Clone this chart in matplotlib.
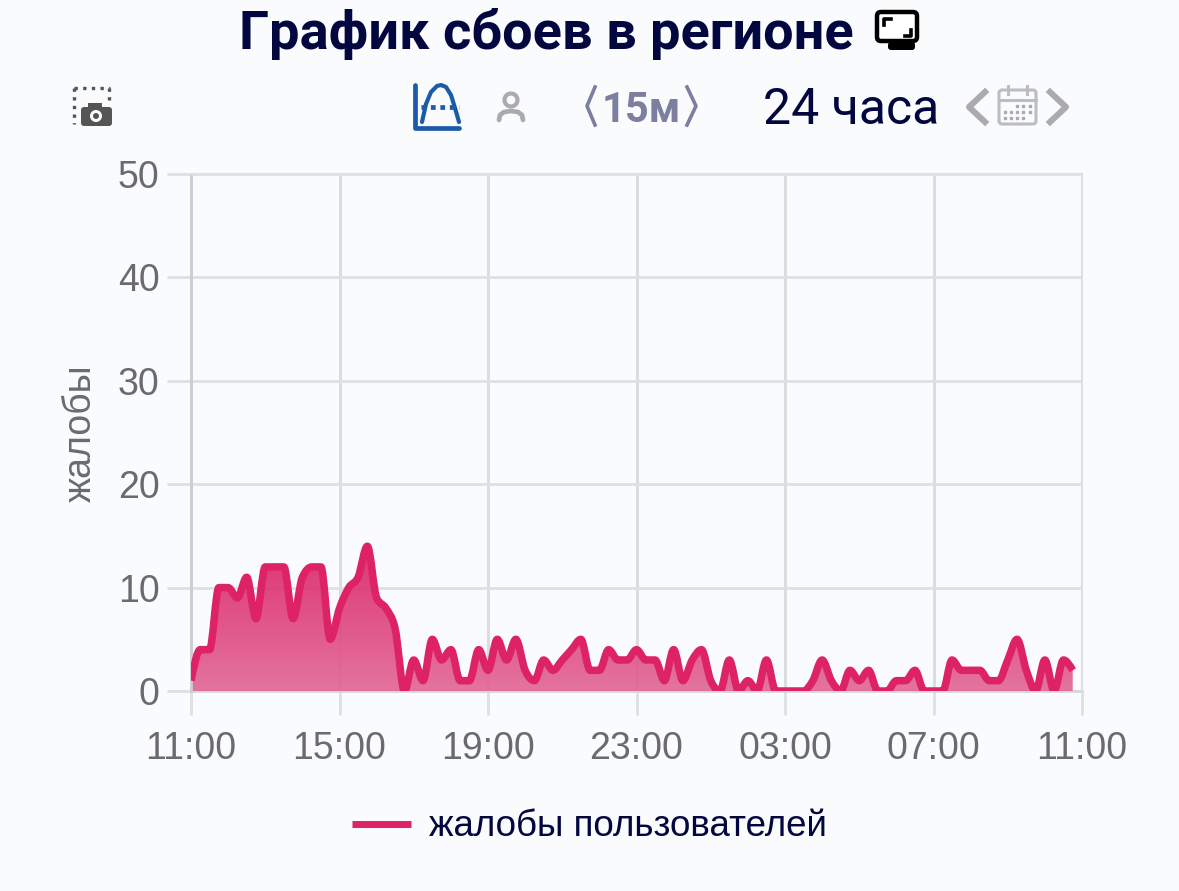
#!/usr/bin/env python3
"""Outage chart for the region: user complaints over 24 hours."""
import matplotlib
matplotlib.use('Agg')
import matplotlib.pyplot as plt
from matplotlib.patches import Circle, FancyBboxPatch, PathPatch, Rectangle
from matplotlib.path import Path
import numpy as np

# complaints per 15 minute slot, starting at 11:00
reports = [
    1, 4, 4, 10, 10, 9, 11, 7, 12, 12, 12, 7, 11, 12, 12, 5,
    8, 10, 11, 14, 9, 8, 6, 0, 3, 1, 5, 3, 4, 1, 1, 4,
    2, 5, 3, 5, 2, 1, 3, 2, 3, 4, 5, 2, 2, 4, 3, 3,
    4, 3, 3, 1, 4, 1, 3, 4, 1, 0, 3, 0, 1, 0, 3, 0,
    0, 0, 0, 1, 3, 1, 0, 2, 1, 2, 0, 0, 1, 1, 2, 0,
    0, 0, 3, 2, 2, 2, 1, 1, 3, 5, 2, 0, 3, 0, 3, 2,
]
hour_ticks = [0, 4, 8, 12, 16, 20, 24]
hour_labels = ['11:00', '15:00', '19:00', '23:00', '03:00', '07:00', '11:00']
y_ticks = [0, 10, 20, 30, 40, 50]

W, H = 1179, 891
BG = '#F9FBFD'
NAVY = '#03073F'
PINK = '#DE2266'
GRAY = '#6B6B6F'
GRID = '#DDE0E4'
ICON = '#ABABAD'
BLUE = '#1B5BAA'
DARK = '#555555'
plt.rcParams['font.family'] = ['Liberation Sans', 'DejaVu Sans']


def monotone_path(x, y):
    """Cubic bezier path through the points, same as d3 curveMonotoneX."""
    x = np.asarray(x, float)
    y = np.asarray(y, float)
    h = np.diff(x)
    s = np.diff(y) / h
    t = np.zeros(len(x))
    for i in range(1, len(x) - 1):
        if s[i - 1] * s[i] > 0:
            p = (s[i - 1] * h[i] + s[i] * h[i - 1]) / (h[i] + h[i - 1])
            t[i] = np.sign(s[i]) * min(abs(s[i - 1]), abs(s[i]), abs(p) / 2) * 2
    t[0] = (3 * s[0] - t[1]) / 2
    t[-1] = (3 * s[-1] - t[-2]) / 2
    verts = [(x[0], y[0])]
    codes = [Path.MOVETO]
    for i in range(len(x) - 1):
        verts += [(x[i] + h[i] / 3, y[i] + t[i] * h[i] / 3),
                  (x[i + 1] - h[i] / 3, y[i + 1] - t[i + 1] * h[i] / 3),
                  (x[i + 1], y[i + 1])]
        codes += [Path.CURVE4] * 3
    return verts, codes


fig = plt.figure(figsize=(W / 100, H / 100), dpi=100, facecolor=BG)
ax = fig.add_axes([191 / W, 1 - 691 / H, 891 / W, 517 / H], facecolor=BG)

hours = np.arange(len(reports)) * 0.25
verts, codes = monotone_path(hours, reports)

# area with vertical gradient, clipped by the curve
area = Path(verts + [(hours[-1], 0), (hours[0], 0), (hours[0], 0)],
            codes + [Path.LINETO, Path.LINETO, Path.CLOSEPOLY])
top = np.array([220, 30, 100]) / 255
low = np.array([226, 100, 148]) / 255
grad = np.linspace(0, 1, 200)[:, None, None] * (low - top) + top
img = ax.imshow(grad, extent=(0, 24, 0, 14), origin='upper', aspect='auto',
                zorder=2, alpha=0.9, interpolation='bilinear')
img.set_clip_path(PathPatch(area, transform=ax.transData))
ax.add_patch(PathPatch(Path(verts, codes), fc='none', ec=PINK, lw=5.4, zorder=3,
                       joinstyle='round', capstyle='butt'))

ax.set_xlim(0, 24)
ax.set_ylim(0, 50)
ax.set_xticks(hour_ticks, hour_labels)
ax.set_yticks(y_ticks)
ax.grid(True, color=GRID, lw=2, zorder=1)
ax.grid(True, axis='x', color='#DADCE1', lw=2.2)
ax.set_axisbelow(True)
ax.tick_params(axis='both', length=17, width=2, color=GRID, labelcolor=GRAY,
               labelsize=27)
ax.tick_params(axis='y', pad=5.5)
ax.tick_params(axis='x', pad=12)
for side in ('top', 'right'):
    ax.spines[side].set_color(GRID)
    ax.spines[side].set_linewidth(1.5)
ax.spines['left'].set_color('#CBCDD1')
ax.spines['left'].set_linewidth(2)
ax.spines['bottom'].set_color('#D5D7DB')
ax.spines['bottom'].set_linewidth(2)
ax.spines['bottom'].set_zorder(1.5)
ax.set_ylabel('жалобы', fontsize=27, color=GRAY)
ax.yaxis.set_label_coords((99 - 191) / 891, (691 - 433) / 517)

# everything around the plot, in pixel coordinates
ov = fig.add_axes([0, 0, 1, 1], facecolor='none')
ov.set_xlim(0, W)
ov.set_ylim(H, 0)
ov.axis('off')

ov.text(546, 34, 'График сбоев в регионе', family='Roboto', weight='bold',
        fontsize=39, color=NAVY, ha='center', va='center')
ov.text(851, 110, '24 часа', family='Roboto', fontsize=36, color=NAVY,
        ha='center', va='center')
ov.text(641, 110, '15м', family='Roboto', weight='bold', fontsize=30,
        color='#7C7F9F', ha='center', va='center')
for xs in ([595, 587, 595], [687, 696, 687]):
    ov.plot(xs, [87, 106, 125], color='#7C7F9F', lw=2.6)

# screen icon next to the title
ov.add_patch(FancyBboxPatch((877, 12), 40, 29, boxstyle='round,pad=0,rounding_size=4',
                            fc='white', ec='black', lw=3.2))
ov.add_patch(FancyBboxPatch((888, 42), 27, 8, boxstyle='round,pad=0,rounding_size=3',
                            fc='black', ec='none'))
ov.plot([884, 884, 891], [25, 19, 19], color='black', lw=2.6)
ov.plot([905, 911, 911], [36, 36, 30], color='black', lw=2.6)

# snapshot icon
ov.plot([74, 74], [88, 124], color=DARK, lw=2.4, ls=(0, (1, 1.6)))
ov.plot([74, 110], [88, 88], color=DARK, lw=2.4, ls=(0, (1, 1.6)))
ov.plot([109, 109], [88, 101], color=DARK, lw=2.4, ls=(0, (1, 1.6)))
ov.add_patch(FancyBboxPatch((81, 107), 31, 19, boxstyle='round,pad=0,rounding_size=3',
                            fc=DARK, ec='none'))
ov.add_patch(Rectangle((88, 103), 14, 5, fc=DARK, ec='none'))
ov.add_patch(Circle((96, 116), 6, fc=BG, ec='none'))
ov.add_patch(Circle((96, 116), 3, fc=DARK, ec='none'))

# curve icon
ov.plot([415, 415, 459], [85, 128, 128], color=BLUE, lw=3.4, solid_capstyle='round')
bell_x = [422, 426, 431, 437, 441, 446, 451, 455, 459]
bell_y = [122, 104, 92, 86, 85, 87, 95, 108, 122]
ov.plot(bell_x, bell_y, color=BLUE, lw=3, solid_capstyle='round')
ov.plot([421, 459], [107, 107], color=BLUE, lw=3.4, ls=(0, (1, 1)))

# person icon
ov.add_patch(Circle((511, 100), 6.5, fc='none', ec=ICON, lw=3))
person_x = [499, 500, 504, 511, 518, 522, 523]
person_y = [120, 115, 112, 111, 112, 115, 120]
ov.plot(person_x, person_y, color=ICON, lw=3.4, solid_capstyle='round')

# date picker with arrows
ov.plot([985, 969, 985], [92, 107, 122], color=ICON, lw=4.4)
ov.plot([1050, 1066, 1050], [92, 107, 122], color=ICON, lw=4.4)
ov.add_patch(FancyBboxPatch((999, 90), 37, 34, boxstyle='round,pad=0,rounding_size=3',
                            fc='none', ec='#BDBDBF', lw=2.2))
ov.plot([999, 1036], [100, 100], color='#BDBDBF', lw=2.2)
ov.plot([1008, 1008], [86, 94], color='#BDBDBF', lw=2.2)
ov.plot([1027, 1027], [86, 94], color='#BDBDBF', lw=2.2)
for row_y, row_x in ((106, [1017, 1023, 1030]),
                     (112, [1005, 1011, 1017, 1023, 1030]),
                     (118, [1005, 1011, 1017, 1023])):
    ov.plot(row_x, [row_y] * len(row_x), ls='none', marker='s', ms=1.6, color=ICON)

# legend
ov.plot([352, 411], [824, 824], color=PINK, lw=5, solid_capstyle='butt')
ov.text(429, 826, 'жалобы пользователей', fontsize=26.5, color=NAVY, ha='left', va='center')

fig.savefig('out.png', dpi=100, facecolor=BG)
